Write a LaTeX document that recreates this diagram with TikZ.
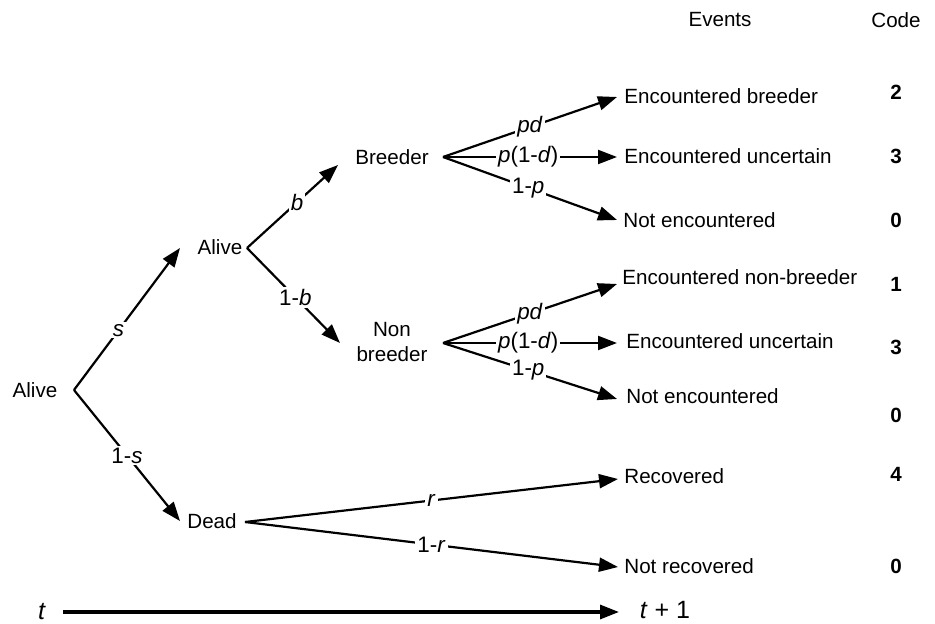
\documentclass[tikz,border=0pt]{standalone}
\usepackage{fontspec}
\setmainfont{Liberation Sans}
\usetikzlibrary{arrows.meta}
\begin{document}
\begin{tikzpicture}[x=0.5pt,y=-0.5pt,
  every node/.style={font=\fontsize{10.3}{12}\selectfont},
  txt/.style={inner sep=0pt},
  evt/.style={inner sep=0pt,anchor=west},
  codet/.style={inner sep=0pt,font=\fontsize{10.3}{12}\selectfont\bfseries},
  conn/.style={line width=1.1pt,-{Triangle[length=9.5pt,width=7pt]}},
  lab/.style={fill=white,inner sep=1pt,font=\fontsize{11.2}{13}\selectfont}]
\useasboundingbox (0,0) rectangle (935,624);
% headers
\node[txt] (hEv) at (720,20) {Events};
\node[txt] (hCo) at (896,20) {Code};
% tree nodes
\node[txt] (A0) at (35,390) {Alive};
\node[txt] (A1) at (220,247) {Alive};
\node[txt] (Br) at (392,157) {Breeder};
\node[txt,align=center,font=\fontsize{10.3}{12.5}\selectfont] (NB) at (392,342) {Non\\[0pt]breeder};
\node[txt] (De) at (212,521) {Dead};
% vertices and tips
\coordinate (v0) at (74,390);
\coordinate (v1) at (247,248);
\coordinate (vB) at (443,157);
\coordinate (vN) at (443,343);
\coordinate (vD) at (245,522);
\coordinate (tA1) at (180,248);
\coordinate (tDe) at (180,521);
\coordinate (tBr) at (338,165);
\coordinate (tNB) at (340,343);
% events
\node[evt] (e1) at (624,96) {Encountered breeder};
\node[evt] (e2) at (624,156) {Encountered uncertain};
\node[evt] (e3) at (623,220) {Not encountered};
\node[evt] (e4) at (622,277) {Encountered non-breeder};
\node[evt] (e5) at (626,341) {Encountered uncertain};
\node[evt] (e6) at (626,396) {Not encountered};
\node[evt] (e7) at (624,476) {Recovered};
\node[evt] (e8) at (624,566) {Not recovered};
\coordinate (t1) at (617,97);
\coordinate (t2) at (617,157);
\coordinate (t3) at (617,220);
\coordinate (t4) at (617,284);
\coordinate (t5) at (617,343);
\coordinate (t6) at (617,399);
\coordinate (t7) at (618,479);
\coordinate (t8) at (618,567);
% codes
\node[codet] (c1) at (896,92) {2};
\node[codet] (c2) at (896,156) {3};
\node[codet] (c3) at (896,220) {0};
\node[codet] (c4) at (896,284) {1};
\node[codet] (c5) at (896,347) {3};
\node[codet] (c6) at (896,415) {0};
\node[codet] (c7) at (896,474) {4};
\node[codet] (c8) at (896,566) {0};
% connectors
\draw[conn] (v0) -- node[lab,pos=0.42] {\textit{s}} (tA1);
\draw[conn] (v0) -- node[lab,pos=0.5] {1-\textit{s}} (tDe);
\draw[conn] (v1) -- node[lab,pos=0.55] {\textit{b}} (tBr);
\draw[conn] (v1) -- node[lab,pos=0.52] {1-\textit{b}} (tNB);
\draw[conn] (vB) -- node[lab,pos=0.5] {\textit{pd}} (t1);
\draw[conn] (vB) -- node[lab,pos=0.49] {\textit{p}(1-\textit{d})} (t2);
\draw[conn] (vB) -- node[lab,pos=0.49] {1-\textit{p}} (t3);
\draw[conn] (vN) -- node[lab,pos=0.5] {\textit{pd}} (t4);
\draw[conn] (vN) -- node[lab,pos=0.49] {\textit{p}(1-\textit{d})} (t5);
\draw[conn] (vN) -- node[lab,pos=0.49] {1-\textit{p}} (t6);
\draw[conn] (vD) -- node[lab,pos=0.5] {\textit{r}} (t7);
\draw[conn] (vD) -- node[lab,pos=0.5] {1-\textit{r}} (t8);
% time axis
\node[txt,font=\fontsize{12.5}{14}\selectfont] (tt) at (42,612) {\textit{t}};
\node[txt,font=\fontsize{12.5}{14}\selectfont] (tt1) at (665,610) {\textit{t} + 1};
\coordinate (ax0) at (63,612);
\coordinate (ax1) at (619,612);
\draw[line width=1.6pt,-{Triangle[length=9.5pt,width=7pt]}] (ax0) -- (ax1);
\end{tikzpicture}
\end{document}
